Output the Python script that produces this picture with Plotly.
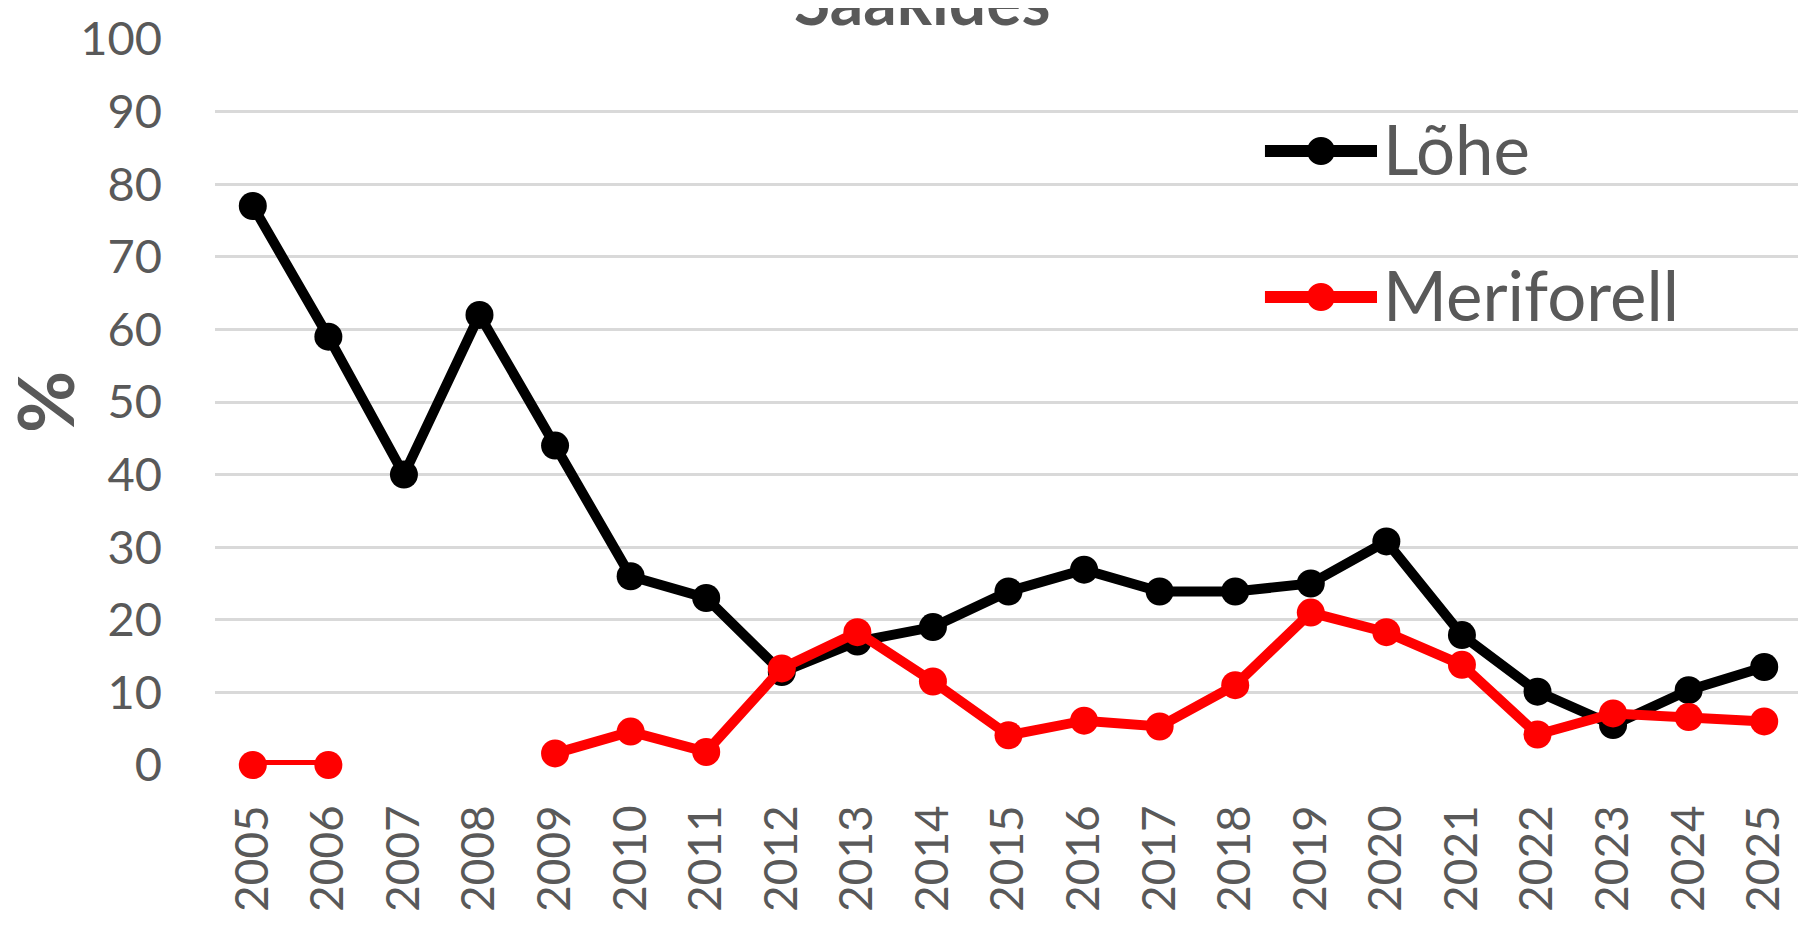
import plotly.graph_objects as go

# data
years = [str(y) for y in range(2005, 2026)]
lohe = [77, 59, 40, 62, 44, 26, 23, 12.8, 17, 19, 23.9, 26.9, 23.9, 23.9, 25, 30.8, 17.9, 10.1, 5.5, 10.3, 13.5]
meriforell = [0, 0, None, None, 1.6, 4.6, 1.8, 13.3, 18.3, 11.5, 4.1, 6.1, 5.3, 11, 21, 18.3, 13.8, 4.2, 7.1, 6.6, 6.0]
y_ticks = list(range(0, 101, 10))

series = [("Lõhe", lohe, "black"), ("Meriforell", meriforell, "#FF0000")]

FONT = "Lato"
GREY = "#595959"

fig = go.Figure()

for name, values, color in series:
    fig.add_trace(go.Scatter(
        x=years, y=values, name=name, mode="lines+markers",
        line=dict(color=color, width=10),
        marker=dict(color=color, size=28),
        cliponaxis=False, showlegend=False,
    ))

# legend drawn by hand so the symbols can be as large as in the original
legend_rows = [0.8457, 0.6446]
for (name, values, color), ly in zip(series, legend_rows):
    fig.add_shape(type="line", xref="paper", yref="paper",
                  x0=0.6616, x1=0.7322, y0=ly, y1=ly,
                  line=dict(color=color, width=12))
    fig.add_shape(type="circle", xref="paper", yref="paper",
                  xsizemode="pixel", ysizemode="pixel",
                  xanchor=0.6969, yanchor=ly, x0=-14, x1=14, y0=-14, y1=14,
                  fillcolor=color, line=dict(color=color, width=0))
    fig.add_annotation(text=name, xref="paper", yref="paper", x=0.7347, y=ly,
                       xanchor="left", yanchor="middle", showarrow=False, yshift=3,
                       font=dict(family=FONT, size=69, color=GREY))

# title sits mostly above the page edge, like the cropped original
fig.add_annotation(
    text="Saakides", xref="paper", yref="paper", x=0.4455, y=1.0,
    xanchor="center", yanchor="bottom", showarrow=False, yshift=-2,
    font=dict(family=FONT, size=66, color=GREY, weight="bold"),
)

# y axis title
fig.add_annotation(
    text="%", xref="paper", yref="paper", x=-0.1078, y=0.5,
    xanchor="center", yanchor="middle", showarrow=False, textangle=-90,
    font=dict(family=FONT, size=76, color=GREY, weight="bold"),
)

# page has an 8px body margin, so the figure is 8px smaller each way
fig.update_layout(
    width=1798, height=922,
    margin=dict(l=207, r=4, t=31, b=165),
    paper_bgcolor="white", plot_bgcolor="white",
    font=dict(family=FONT, color=GREY),
    showlegend=False,
)

fig.update_xaxes(
    type="category", range=[-0.5, 20.5],
    tickangle=-90, tickfont=dict(family=FONT, size=46, color=GREY),
    showgrid=False, showline=False, zeroline=False,
    ticklabelstandoff=30,
)
fig.update_yaxes(
    range=[0, 100], tickvals=y_ticks,
    tickfont=dict(family=FONT, size=47, color=GREY),
    showgrid=True, gridcolor="#D9D9D9", gridwidth=3,
    zeroline=False, showline=False,
    ticklabelstandoff=52,
    automargin=False,
)

fig.write_html("out.html")
